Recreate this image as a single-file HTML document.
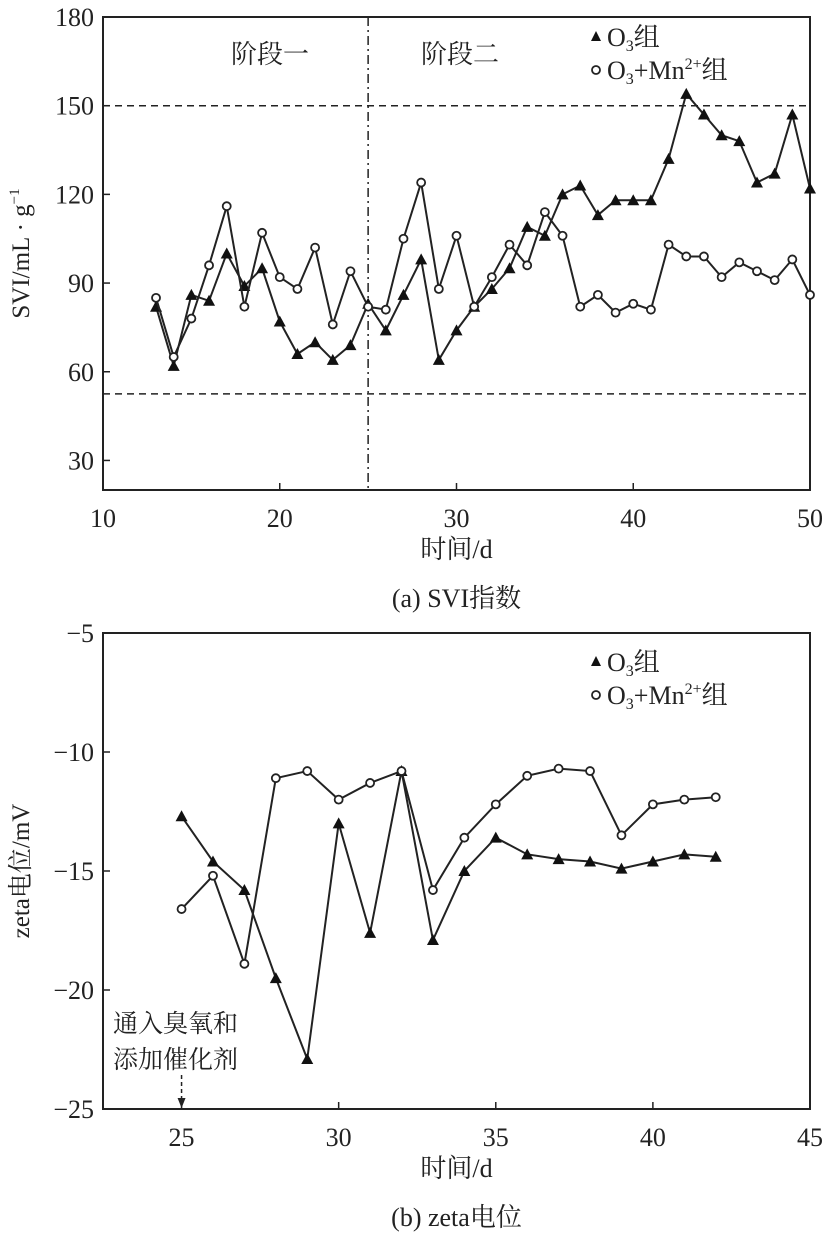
<!DOCTYPE html>
<html><head><meta charset="utf-8"><style>
body{margin:0;background:#fff}
svg text{font-family:"Liberation Serif","Noto Serif CJK SC",serif;fill:#222}
</style></head><body>
<svg id="c" width="831" height="1239" viewBox="0 0 831 1239" xmlns="http://www.w3.org/2000/svg">
<g id="top"></g>
<g id="bot"></g>
</svg>
<script>
const sviDays=[13,14,15,16,17,18,19,20,21,22,23,24,25,26,27,28,29,30,31,32,33,34,35,36,37,38,39,40,41,42,43,44,45,46,47,48,49,50];
const sviO3=[82,62,86,84,100,89,95,77,66,70,64,69,83,74,86,98,64,74,82,88,95,109,106,120,123,113,118,118,118,132,154,147,140,138,124,127,147,122];
const sviMn=[85,65,78,96,116,82,107,92,88,102,76,94,82,81,105,124,88,106,82,92,103,96,114,106,82,86,80,83,81,103,99,99,92,97,94,91,98,86];
const sviXTicks=[10,20,30,40,50];
const sviYTicks=[30,60,90,120,150,180];
const zDays=[25,26,27,28,29,30,31,32,33,34,35,36,37,38,39,40,41,42];
const zO3=[-12.7,-14.6,-15.8,-19.5,-22.9,-13.0,-17.6,-10.8,-17.9,-15.0,-13.6,-14.3,-14.5,-14.6,-14.9,-14.6,-14.3,-14.4];
const zMn=[-16.6,-15.2,-18.9,-11.1,-10.8,-12.0,-11.3,-10.8,-15.8,-13.6,-12.2,-11.0,-10.7,-10.8,-13.5,-12.2,-12.0,-11.9];
const zXTicks=[25,30,35,40,45];
const zYTicks=[-25,-20,-15,-10,-5];
const NS="http://www.w3.org/2000/svg";
function mk(p,t,a,txt){const e=document.createElementNS(NS,t);for(const k in a)e.setAttribute(k,a[k]);if(txt!=null)e.textContent=txt;p.appendChild(e);return e;}
function chart(g,o){
 const L=103,R=810,T=o.top,B=o.bot;
 const sx=v=>L+(v-o.x0)/(o.x1-o.x0)*(R-L);
 const sy=v=>B-(v-o.y0)/(o.y1-o.y0)*(B-T);
 const fr=mk(g,'rect',{x:L,y:T,width:R-L,height:B-T,fill:'none',stroke:'#222','stroke-width':2});
 
 o.xt.forEach(v=>{const x=sx(v);mk(g,'line',{x1:x,y1:B,x2:x,y2:B-7,stroke:'#222','stroke-width':1.5});
  const t=mk(g,'text',{x:x,y:B+37,'text-anchor':'middle','font-size':26},v);
  });
 o.yt.forEach(v=>{const y=sy(v);mk(g,'line',{x1:L,y1:y,x2:L+7,y2:y,stroke:'#222','stroke-width':1.5});
  const t=mk(g,'text',{x:L-9,y:y+9,'text-anchor':'end','font-size':26},v<0?'\u2212'+(-v):v);
  });
 const xt=mk(g,'text',{x:(L+R)/2,y:B+68,'text-anchor':'middle','font-size':26},'时间/d');
 
 const cap=mk(g,'text',{x:(L+R)/2,y:B+117,'text-anchor':'middle','font-size':26},o.cap);
 
 const yt=mk(g,'text',{x:0,y:0,'text-anchor':'middle','font-size':25,transform:`translate(29,${(T+B)/2}) rotate(-90)`});
 yt.innerHTML=o.yl;
 if(o.extra)o.extra(g,sx,sy,L,R,T,B);
 const series=(ys,kind)=>{
  const pl=mk(g,'polyline',{points:o.xs.map((d,i)=>sx(d)+','+sy(ys[i])).join(' '),fill:'none',stroke:'#222','stroke-width':2});
  
  o.xs.forEach((d,i)=>{const x=sx(d),y=sy(ys[i]);let m;
   if(kind==='o3')m=mk(g,'polygon',{points:`${x},${y-6} ${x-6},${y+5} ${x+6},${y+5}`,fill:'#111'});
   else m=mk(g,'circle',{cx:x,cy:y,r:4,fill:'#fff',stroke:'#222','stroke-width':1.8});
   });
 };
 series(o.a,'o3');series(o.b,'mn');
 const ly=o.top+o.legY;
 const l1=mk(g,'polygon',{points:`596,${ly-6} 591,${ly+4} 601,${ly+4}`,fill:'#111'});
 
 const t1=mk(g,'text',{x:607,y:ly+9,'font-size':26});t1.innerHTML='O<tspan font-size="16" dy="5">3</tspan><tspan dy="-5">组</tspan>';
 
 const l2=mk(g,'circle',{cx:596,cy:ly+33,r:4,fill:'#fff',stroke:'#222','stroke-width':1.8});
 
 const t2=mk(g,'text',{x:607,y:ly+42,'font-size':26});t2.innerHTML='O<tspan font-size="16" dy="5">3</tspan><tspan dy="-5">+Mn</tspan><tspan font-size="16" dy="-10">2+</tspan><tspan dy="10">组</tspan>';
 
}
chart(document.getElementById('top'),{top:17,bot:490,x0:10,x1:50,y0:20,y1:180,xt:sviXTicks,yt:sviYTicks,xs:sviDays,a:sviO3,b:sviMn,cap:'(a) SVI指数',legY:20,
 yl:'SVI/mL · g<tspan font-size="15" dy="-10">−1</tspan>',
 extra:(g,sx,sy,L,R,T,B)=>{
  [150,52.5].forEach(v=>{const l=mk(g,'line',{x1:L,y1:sy(v),x2:R,y2:sy(v),stroke:'#222','stroke-width':1.5,'stroke-dasharray':'7,5'});});
  const v=mk(g,'line',{x1:sx(25),y1:T,x2:sx(25),y2:B,stroke:'#222','stroke-width':1.5,'stroke-dasharray':'9,4,2,4'});
  
  const s1=mk(g,'text',{x:270,y:63,'text-anchor':'middle','font-size':26},'阶段一');
  const s2=mk(g,'text',{x:460,y:63,'text-anchor':'middle','font-size':26},'阶段二');
 }});
chart(document.getElementById('bot'),{top:633,bot:1109,x0:22.5,x1:45,y0:-25,y1:-5,xt:zXTicks,yt:zYTicks,xs:zDays,a:zO3,b:zMn,cap:'(b) zeta电位',legY:29,
 yl:'zeta电位/mV',
 extra:(g,sx,sy,L,R,T,B)=>{
  const a1=mk(g,'text',{x:113,y:1032,'font-size':25},'通入臭氧和');
  const a2=mk(g,'text',{x:113,y:1068,'font-size':25},'添加催化剂');
  const x=sx(25);const ar=mk(g,'line',{x1:x,y1:1075,x2:x,y2:1100,stroke:'#222','stroke-width':1.5,'stroke-dasharray':'4,3'});
  
  const h=mk(g,'polygon',{points:`${x-4},1098 ${x+4},1098 ${x},1108`,fill:'#222'});
 }});
</script>
</body></html>
